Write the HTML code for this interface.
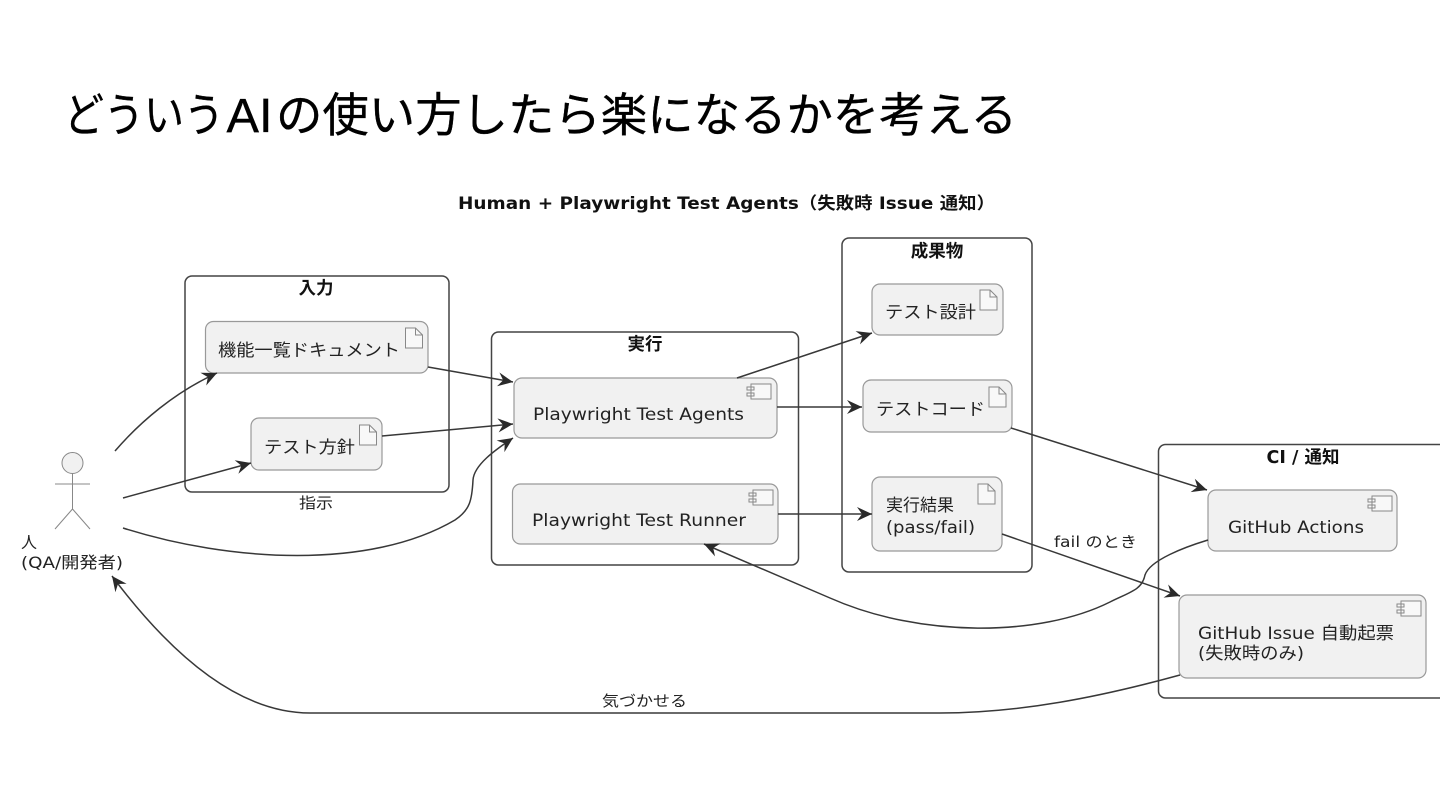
<!DOCTYPE html>
<html><head><meta charset="utf-8"><style>
html,body{margin:0;padding:0;background:#fff;width:1440px;height:810px;overflow:hidden}
svg{display:block}
text{font-family:"DejaVu Sans","Noto Sans CJK JP",sans-serif;fill:#111}
.t{font-size:17px;fill:#222}
.b{font-size:17.5px;font-weight:700;fill:#111}
.l{font-size:15px;fill:#222}
.g{fill:none;stroke:#444;stroke-width:1.5}
.n{fill:#f1f1f1;stroke:#999;stroke-width:1.2}
.i{fill:#f8f8f8;stroke:#888;stroke-width:1}
.e{fill:none;stroke:#383838;stroke-width:1.5;marker-end:url(#ah)}
.title{font-family:"Liberation Sans","Noto Sans CJK JP",sans-serif;font-size:46.5px;fill:#000;stroke:#000;stroke-width:.35px}
</style></head><body>
<svg width="1440" height="810" viewBox="0 0 1440 810" xmlns="http://www.w3.org/2000/svg">
<defs>
<marker id="ah" markerUnits="userSpaceOnUse" markerWidth="20" markerHeight="20" refX="0" refY="0" orient="auto" overflow="visible" viewBox="-16 -10 20 20">
<path d="M0 0L-15 -7L-10 0L-15 7Z" fill="#2a2a2a"/>
</marker>
<symbol id="doc" overflow="visible"><path class="i" d="M0 0H10L17 7V20H0Z"/><path d="M10 0V7H17" fill="none" stroke="#888" stroke-width="1"/></symbol>
<symbol id="cmp" overflow="visible"><path class="i" d="M4 0H24V15H4Z M0 3H7V6H0Z M0 9H7V12H0Z"/></symbol>
</defs>
<text class="title" x="64" y="131.500" textLength="160" lengthAdjust="spacingAndGlyphs">どういう</text>
<text class="title" x="226.500" y="132" style="font-size:48px" textLength="46" lengthAdjust="spacingAndGlyphs">AI</text>
<text class="title" x="276" y="131.500" textLength="741" lengthAdjust="spacingAndGlyphs">の使い方したら楽になるかを考える</text>
<text x="458" y="209" style="font-size:17px;font-weight:700" textLength="537" lengthAdjust="spacingAndGlyphs">Human + Playwright Test Agents（失敗時 Issue 通知）</text>

<rect class="g" x="185" y="276" width="264" height="216" rx="7"/>
<rect class="g" x="491.500" y="332" width="307" height="233" rx="7"/>
<rect class="g" x="842" y="238" width="190" height="334" rx="7"/>
<rect class="g" x="1158.500" y="444.500" width="300" height="253.500" rx="7"/>
<text class="b" x="316" y="294" text-anchor="middle">入力</text>
<text class="b" x="645" y="350" text-anchor="middle">実行</text>
<text class="b" x="937" y="257" text-anchor="middle">成果物</text>
<text class="b" x="1303" y="463" text-anchor="middle">CI / 通知</text>

<rect class="n" x="205.500" y="321.500" width="222.500" height="51.500" rx="8"/>
<rect class="n" x="251" y="418" width="131" height="52" rx="8"/>
<rect class="n" x="514" y="378" width="263" height="60" rx="8"/>
<rect class="n" x="512.500" y="484" width="265.500" height="60" rx="8"/>
<rect class="n" x="872" y="284" width="131" height="51" rx="8"/>
<rect class="n" x="863" y="380" width="149" height="52" rx="8"/>
<rect class="n" x="872" y="477" width="130" height="74" rx="8"/>
<rect class="n" x="1208" y="490" width="189" height="61" rx="8"/>
<rect class="n" x="1179" y="595" width="247" height="83" rx="8"/>

<use href="#doc" x="405.500" y="328"/>
<use href="#doc" x="359.500" y="425"/>
<use href="#doc" x="980" y="290"/>
<use href="#doc" x="989" y="387"/>
<use href="#doc" x="978" y="484"/>
<use href="#cmp" x="747" y="384"/>
<use href="#cmp" x="749" y="490"/>
<use href="#cmp" x="1368" y="496"/>
<use href="#cmp" x="1397" y="601"/>

<text class="t" x="218" y="356" textLength="182" lengthAdjust="spacingAndGlyphs">機能一覧ドキュメント</text>
<text class="t" x="264" y="453" textLength="91" lengthAdjust="spacingAndGlyphs">テスト方針</text>
<text class="t" x="533" y="420" textLength="211" lengthAdjust="spacingAndGlyphs">Playwright Test Agents</text>
<text class="t" x="532" y="526" textLength="214" lengthAdjust="spacingAndGlyphs">Playwright Test Runner</text>
<text class="t" x="885" y="318" textLength="91" lengthAdjust="spacingAndGlyphs">テスト設計</text>
<text class="t" x="876" y="415" textLength="109" lengthAdjust="spacingAndGlyphs">テストコード</text>
<text class="t" x="886" y="511">実行結果</text>
<text class="t" x="886" y="533" textLength="89" lengthAdjust="spacingAndGlyphs">(pass/fail)</text>
<text class="t" x="1228" y="533" textLength="136" lengthAdjust="spacingAndGlyphs">GitHub Actions</text>
<text class="t" x="1198" y="639" textLength="196" lengthAdjust="spacingAndGlyphs">GitHub Issue 自動起票</text>
<text class="t" x="1198" y="659" textLength="106" lengthAdjust="spacingAndGlyphs">(失敗時のみ)</text>

<circle cx="72.500" cy="463" r="10.500" fill="#f1f1f1" stroke="#888" stroke-width="1"/>
<path d="M72.500 473.500V509M55 484H90M72.500 509L55 529M72.500 509L90 529" fill="none" stroke="#888" stroke-width="1"/>
<text class="t" x="21" y="548" style="font-size:16px">人</text>
<text class="t" x="21" y="568" style="font-size:16px" textLength="102" lengthAdjust="spacingAndGlyphs">(QA/開発者)</text>
<text class="l" x="299" y="508" textLength="34" lengthAdjust="spacingAndGlyphs">指示</text>
<text class="l" x="1054" y="547" textLength="83" lengthAdjust="spacingAndGlyphs">fail のとき</text>
<text class="l" x="602" y="706" textLength="85" lengthAdjust="spacingAndGlyphs">気づかせる</text>

<path class="e" d="M115 451C140 422 175 392 217 373"/>
<path class="e" d="M123 498L251 463"/>
<path class="e" d="M123 528C230 562 370 570 455 520C470 510 472 500 473 480C474 465 495 450 513 438"/>
<path class="e" d="M428 367L513 382"/>
<path class="e" d="M382 436L513 424"/>
<path class="e" d="M737 378L872 333"/>
<path class="e" d="M777 407H862"/>
<path class="e" d="M778 514H872"/>
<path class="e" d="M1011 428L1207 490"/>
<path class="e" d="M1002 534L1180 596"/>
<path class="e" d="M1208 540C1185 547 1150 560 1145 575C1142 590 1130 592 1110 602C1040 637 920 638 830 598L704 544"/>
<path class="e" d="M1180 675C1100 697 1020 713 940 713H310C230 713 160 640 112 576"/>
</svg>
</body></html>
